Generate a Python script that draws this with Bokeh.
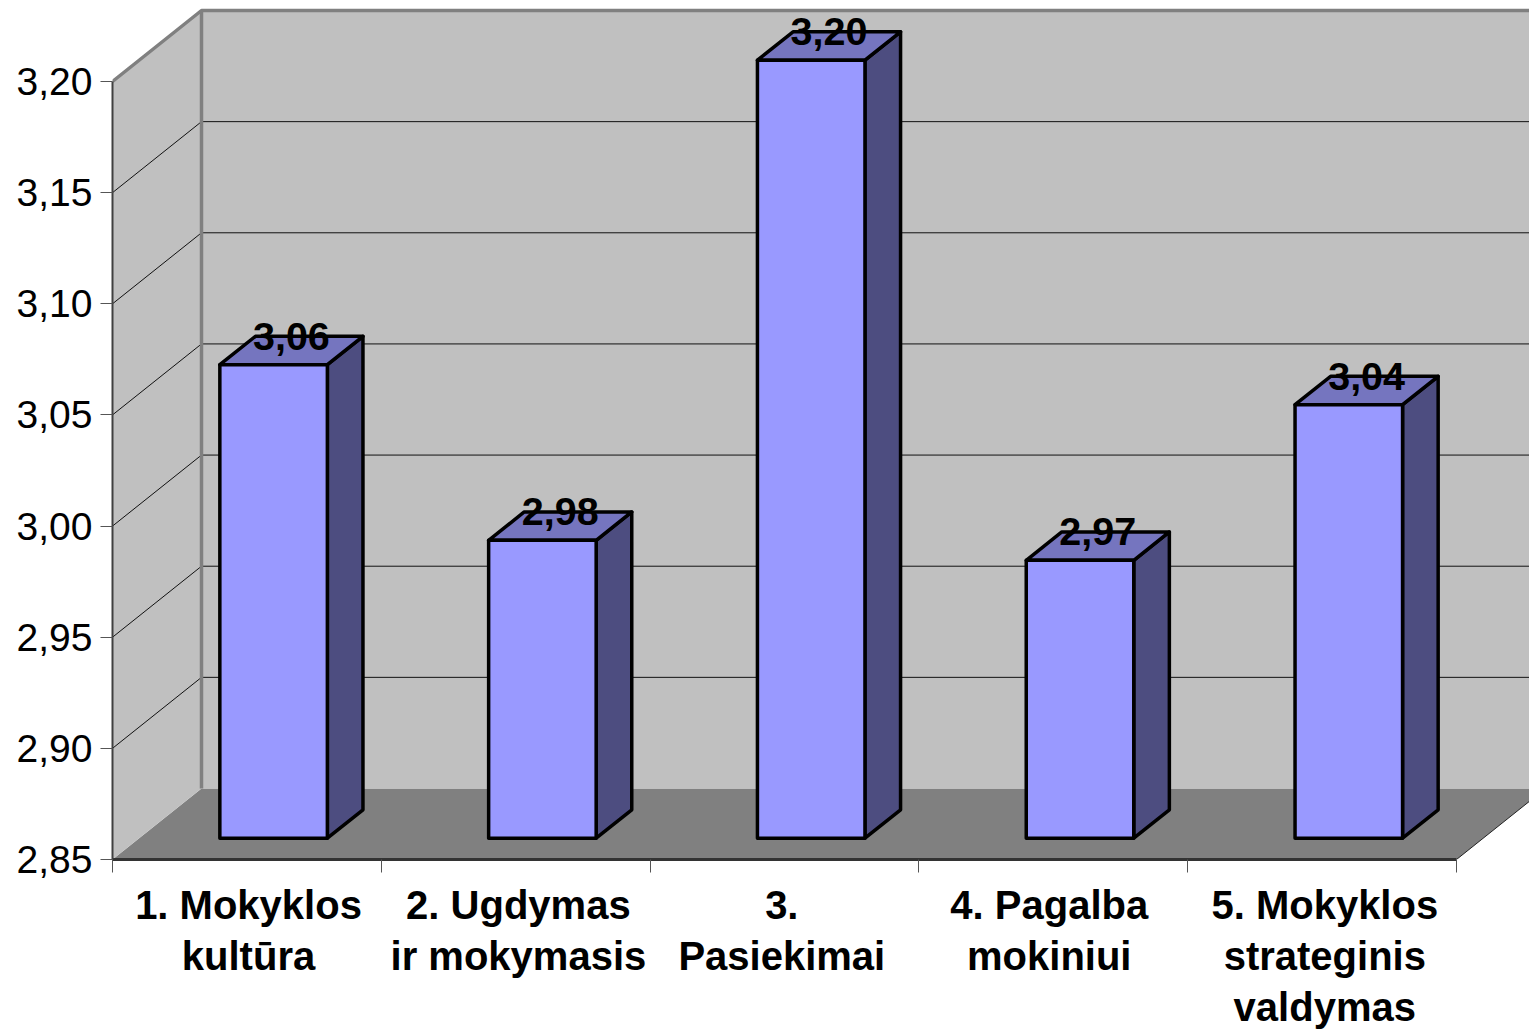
from bokeh.plotting import figure
from bokeh.models import Range1d, LinearAxis, FixedTicker, ColumnDataSource
from bokeh.core.properties import value
from bokeh.embed import file_html
from bokeh.resources import INLINE

categories = ["1. Mokyklos\nkultūra", "2. Ugdymas\nir mokymasis", "3.\nPasiekimai",
              "4. Pagalba\nmokiniui", "5. Mokyklos\nstrateginis\nvaldymas"]
values = [3.063, 2.984, 3.200, 2.975, 3.045]
value_labels = ["3,06", "2,98", "3,20", "2,97", "3,04"]
y_ticks = [2.85, 2.90, 2.95, 3.00, 3.05, 3.10, 3.15, 3.20]
y_tick_labels = ["2,85", "2,90", "2,95", "3,00", "3,05", "3,10", "3,15", "3,20"]
x_bounds = [0, 1, 2, 3, 4, 5]
x_label_positions = [0.506, 1.51, 2.49, 3.485, 4.51]

W = 1529
LEFT = 112
FRAME_H = 859
PX_X = 268.8          # px per category
PX_Y = 778 / 0.35     # px per value unit
DX = 89 / PX_X        # oblique depth in data units
DY = 71 / PX_Y
BAR_W = 0.4
Z0, Z1 = 0.30, 0.70   # bar depth extent
BASE = y_ticks[0]
TOP = y_ticks[-1]

p = figure(frame_width=W - LEFT, frame_height=FRAME_H, output_backend="svg", toolbar_location=None,
           x_range=Range1d(0, (W - LEFT) / PX_X),
           y_range=Range1d(BASE, BASE + FRAME_H / PX_Y),
           x_axis_type=None, y_axis_type=None,
           min_border_left=LEFT, min_border_right=0, min_border_top=0, min_border_bottom=0)
p.grid.visible = False
p.outline_line_color = None
p.background_fill_color = "white"
p.border_fill_color = "white"

def X(x, z=0.0):
    return x + z * DX
def Y(y, z=0.0):
    return y + z * DY

xmax = x_bounds[-1]
# floor, walls
p.patch([X(0), X(0, 1), X(xmax, 1), X(xmax)], [Y(BASE), Y(BASE, 1), Y(BASE, 1), Y(BASE)],
        fill_color="#808080", line_color=None)
p.patch([X(0), X(0, 1), X(0, 1), X(0)], [Y(BASE), Y(BASE, 1), Y(TOP, 1), Y(TOP)],
        fill_color="#C0C0C0", line_color=None)
p.patch([X(0, 1), X(xmax, 1), X(xmax, 1), X(0, 1)], [Y(BASE, 1), Y(BASE, 1), Y(TOP, 1), Y(TOP, 1)],
        fill_color="#C0C0C0", line_color=None)
# gridlines on both walls
gx, gy = [], []
for t in y_ticks[1:-1]:
    gx.append([X(0), X(0, 1), X(xmax, 1)])
    gy.append([Y(t), Y(t, 1), Y(t, 1)])
p.multi_line(gx, gy, line_color="#111111", line_width=1)
# wall borders
p.line([X(0), X(0, 1), X(xmax, 1)], [Y(TOP), Y(TOP, 1), Y(TOP, 1)], line_color="#808080", line_width=3.5)
p.line([X(0, 1), X(0, 1)], [Y(BASE, 1), Y(TOP, 1)], line_color="#808080", line_width=3.5)
# floor right edge
p.line([X(xmax), X(xmax, 1)], [Y(BASE), Y(BASE, 1)], line_color="#222222", line_width=1)

# bars
for i, v in enumerate(values):
    x0 = i + 0.5 - BAR_W / 2
    x1 = x0 + BAR_W
    front_x = [X(x0, Z0), X(x1, Z0), X(x1, Z0), X(x0, Z0)]
    front_y = [Y(BASE, Z0), Y(BASE, Z0), Y(v, Z0), Y(v, Z0)]
    side_x = [X(x1, Z0), X(x1, Z1), X(x1, Z1), X(x1, Z0)]
    side_y = [Y(BASE, Z0), Y(BASE, Z1), Y(v, Z1), Y(v, Z0)]
    top_x = [X(x0, Z0), X(x1, Z0), X(x1, Z1), X(x0, Z1)]
    top_y = [Y(v, Z0), Y(v, Z0), Y(v, Z1), Y(v, Z1)]
    p.patch(side_x, side_y, fill_color="#4D4D80", line_color="black", line_width=3.5, line_join="round")
    p.patch(top_x, top_y, fill_color="#7575BF", line_color="black", line_width=3.5, line_join="round")
    p.patch(front_x, front_y, fill_color="#9999FF", line_color="black", line_width=3.5, line_join="round")

# value labels
src = ColumnDataSource(dict(
    x=[X(i + 0.5, (Z0 + Z1) / 2) for i in range(len(values))],
    y=[Y(v, (Z0 + Z1) / 2) for v in values],
    t=value_labels))
p.text("x", "y", text="t", source=src, text_align="center", text_baseline="middle",
       y_offset=-14.5, text_font=value("Liberation Sans"), text_font_style="bold",
       text_font_size="39.5px", text_color="black")

# axes
yax = LinearAxis(ticker=FixedTicker(ticks=y_ticks),
                 major_label_overrides=dict(zip(y_ticks, y_tick_labels)),
                 bounds=(BASE, TOP))
yax.major_label_text_font = "Liberation Sans"
yax.major_label_text_font_size = "39px"
yax.major_label_text_color = "black"
yax.major_label_standoff = 8
yax.major_tick_out = 12
yax.major_tick_in = 0
yax.major_tick_line_color = "#555555"
yax.minor_tick_line_color = None
yax.axis_line_color = "#404040"
yax.axis_line_width = 2
p.add_layout(yax, "left")

xax = LinearAxis(ticker=FixedTicker(ticks=x_label_positions, minor_ticks=x_bounds),
                 major_label_overrides=dict(zip(x_label_positions, categories)),
                 bounds=(x_bounds[0], x_bounds[-1]))
xax.major_label_text_font = "Liberation Sans"
xax.major_label_text_font_style = "bold"
xax.major_label_text_font_size = "40px"
xax.major_label_text_color = "black"
xax.major_label_text_line_height = 1.16
xax.major_label_standoff = 10
xax.major_tick_out = 0
xax.major_tick_in = 0
xax.major_tick_line_color = None
xax.minor_tick_out = 13
xax.minor_tick_in = 0
xax.minor_tick_line_color = "#555555"
xax.axis_line_color = "#333333"
xax.axis_line_width = 3
p.add_layout(xax, "below")

open("out.html", "w").write(file_html(p, INLINE))
